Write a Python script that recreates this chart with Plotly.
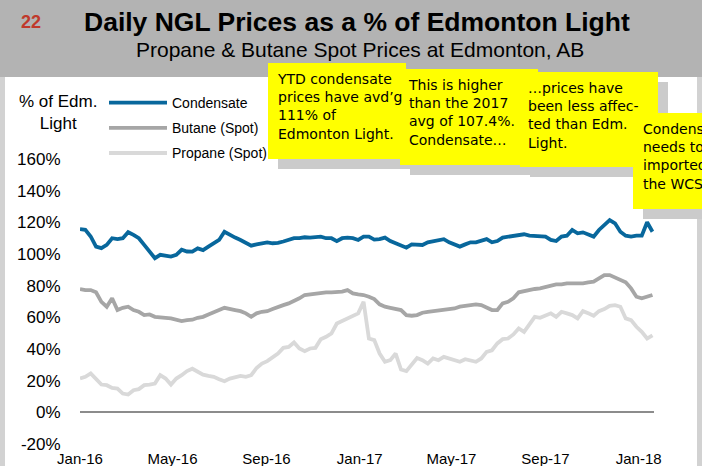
import pandas as pd
import plotly.graph_objects as go

# ---- data (weekly readings, % of Edmonton Light) ----
dates = pd.date_range("2016-01-01", periods=108, freq="7D")

condensate = [
    115.7, 115.3, 111.1, 104.7, 103.7, 105.8, 110.0, 109.4, 110.0, 113.8, 112.1, 110.0,
    105.8, 101.6, 97.4, 99.5, 98.9, 98.4, 99.5, 102.7, 101.6, 101.5,
    103.6, 102.5, 104.7, 106.8, 108.9, 114.1, 112.0, 110.4, 108.9, 107.4, 105.3, 106.1,
    106.6, 107.4, 106.8, 107.0, 107.9, 108.9, 110.0, 110.0, 110.6, 110.4,
    111.0, 111.0, 110.0, 110.0, 108.2, 110.0, 110.4, 110.0, 108.9, 111.0, 111.0, 109.1,
    109.4, 110.4, 108.2, 106.8, 105.3, 104.0, 106.1, 105.7, 105.7,
    107.4, 108.2, 108.9, 109.4, 107.4, 106.1, 104.7, 106.1, 107.4, 107.4, 108.2, 109.4,
    107.4, 108.2, 110.4, 111.0, 111.0, 111.6, 112.5, 111.6, 111.6,
    111.0, 111.0, 108.9, 108.2, 111.0, 111.6, 115.2, 113.1, 113.7, 112.5, 111.0, 115.2,
    118.4, 121.5, 119.4, 114.1, 111.6, 111.0, 111.6, 111.6, 120.1, 114.1,
]
butane = [
    77.9, 77.2, 77.2, 75.8, 69.8, 66.7, 72.0, 64.6, 66.0, 66.7, 64.6, 63.5,
    61.4, 61.8, 60.3, 60.3, 59.7, 59.3, 58.2, 57.6, 58.2, 58.5,
    59.7, 60.3, 61.8, 63.5, 64.6, 66.0, 65.6, 64.6, 63.9, 62.5, 60.3, 62.5,
    63.5, 63.9, 65.2, 66.7, 67.7, 68.8, 70.3, 72.0, 74.1, 74.5,
    75.1, 75.8, 75.8, 75.8, 75.8, 76.2, 77.2, 75.1, 74.5, 74.1, 73.0, 71.5,
    68.2, 66.7, 66.0, 65.2, 64.6, 61.4, 61.0, 61.4, 62.9,
    63.5, 63.9, 64.6, 65.2, 65.2, 65.6, 66.7, 67.3, 68.2, 68.2, 67.7, 66.0,
    64.6, 64.6, 68.8, 69.8, 72.0, 75.8, 76.6, 77.2, 77.9,
    78.3, 79.3, 80.0, 80.8, 80.8, 81.5, 81.5, 81.5, 81.5, 82.1, 82.5, 84.6,
    86.7, 86.7, 85.0, 83.6, 82.1, 78.3, 73.0, 72.0, 73.0, 74.1,
]
propane = [
    21.3, 22.4, 24.5, 21.3, 17.5, 17.1, 15.4, 15.0, 11.8, 11.2, 13.9, 14.6,
    17.1, 17.5, 18.1, 23.4, 21.3, 17.5, 21.3, 23.4, 26.0, 27.5,
    25.5, 23.8, 23.0, 22.4, 20.9, 19.6, 21.3, 22.4, 23.0, 22.4, 23.4, 28.0,
    30.8, 32.3, 35.0, 37.1, 40.7, 41.3, 44.1, 40.3, 38.6, 40.3,
    40.7, 46.2, 47.7, 49.8, 56.1, 57.6, 59.7, 61.0, 62.5, 69.8, 46.6, 45.6,
    37.1, 31.9, 32.9, 37.1, 27.0, 26.0, 29.8, 34.3, 32.9,
    30.8, 34.0, 32.9, 35.0, 34.0, 32.9, 31.9, 33.5, 32.9, 31.9, 34.0, 38.2,
    39.2, 43.5, 46.2, 46.6, 49.2, 53.0, 50.8, 55.1, 60.3,
    59.7, 61.4, 62.5, 60.3, 63.5, 62.5, 61.4, 59.3, 63.9, 62.5, 61.0, 63.9,
    65.2, 67.3, 67.7, 66.7, 59.3, 58.2, 54.0, 50.8, 46.6, 48.6,
]
series_names = ["Condensate", "Butane (Spot)", "Propane (Spot)"]
series_colors = ["#08679C", "#A6A6A6", "#D9D9D9"]

tick_dates = ["2016-01-01", "2016-05-01", "2016-09-01", "2017-01-01",
              "2017-05-01", "2017-09-01", "2018-01-01"]
tick_labels = ["Jan-16", "May-16", "Sep-16", "Jan-17", "May-17", "Sep-17", "Jan-18"]
y_ticks = [-20, 0, 20, 40, 60, 80, 100, 120, 140, 160]
y_labels = [f"{v}%" for v in y_ticks]

# ---- layout geometry (pixels) ----
W, H = 702, 466
ML, MR, MT, MB = 80, 48, 80, 18
PW, PH = W - ML - MR, H - MT - MB
Y_RANGE = [-22.6, 210]
X_RANGE = ["2016-01-01", "2018-01-21"]


def xp(px):
    return (px - ML) / PW


def yp(py):
    return (H - MB - py) / PH


fig = go.Figure()
for name, vals, col, grp in zip(series_names, [condensate, butane, propane],
                                series_colors, ["a", "b", "c"]):
    fig.add_trace(go.Scatter(x=dates, y=vals, mode="lines", name=name,
                             legendgroup=grp,
                             line=dict(color=col, width=3.8)))
# empty trace that registers the overlaid axis used for the 0% axis line
fig.add_trace(go.Scatter(x=[], y=[], xaxis="x2", showlegend=False, hoverinfo="skip"))

shapes = []


def rect(x0, y0, x1, y1, color, layer="above"):
    shapes.append(dict(type="rect", xref="paper", yref="paper",
                       x0=xp(x0), x1=xp(x1), y0=yp(y1), y1=yp(y0),
                       fillcolor=color, line=dict(width=0), layer=layer))


# frame
rect(0, 0, W, 77, "#B3B3B3", "below")
rect(0, 77, 5, H, "#D2D2D2", "below")
rect(697, 77, W, H, "#D2D2D2", "below")
# note shadows and boxes
boxes = [(268, 63, 406, 159), (400, 69, 538, 165), (520, 72, 658, 167), (633, 113, 720, 209)]
for (x0, y0, x1, y1) in boxes:
    rect(x0 + 10, y0 + 10, x1 + 10, y1 + 10, "#CBCBCB")
for (x0, y0, x1, y1) in boxes:
    rect(x0, y0, x1, y1, "#FFFF00")

note_texts = [
    "YTD condensate<br>prices have avd’g<br>111% of<br>Edmonton Light.",
    "This is higher<br>than the 2017<br>avg of 107.4%.<br>Condensate…",
    "…prices have<br>been less affec-<br>ted than Edm.<br>Light.",
    "Condensate<br>needs to be<br>imported for<br>the WCS",
]
note_pos = [(275, 69), (406, 75), (526, 78), (641, 119)]

annotations = []
for txt, (px, py) in zip(note_texts, note_pos):
    annotations.append(dict(text=txt, xref="paper", yref="paper", x=xp(px), y=yp(py),
                            xanchor="left", yanchor="top", align="left", showarrow=False,
                            font=dict(family="Comic Sans MS, DejaVu Sans", size=14,
                                      color="#000000")))

annotations += [
    dict(text="<b>22</b>", xref="paper", yref="paper", x=xp(31), y=yp(22),
         xanchor="center", yanchor="middle", showarrow=False,
         font=dict(family="Liberation Sans, Arial", size=18, color="#C0392B")),
    dict(text="<b>Daily NGL Prices as a % of Edmonton Light</b>", xref="paper", yref="paper",
         x=xp(357), y=yp(22), xanchor="center", yanchor="middle", showarrow=False,
         font=dict(family="Liberation Sans, Arial", size=26.5, color="#000000")),
    dict(text="Propane & Butane Spot Prices at Edmonton, AB", xref="paper", yref="paper",
         x=xp(360), y=yp(50), xanchor="center", yanchor="middle", showarrow=False,
         font=dict(family="Liberation Sans, Arial", size=21, color="#000000")),
    dict(text="% of Edm.<br>Light", xref="paper", yref="paper",
         x=xp(58), y=yp(112), xanchor="center", yanchor="middle", showarrow=False,
         align="center",
         font=dict(family="Liberation Sans, Arial", size=17, color="#000000")),
]

fig.update_layout(
    width=W, height=H,
    margin=dict(l=ML, r=MR, t=MT, b=MB, autoexpand=False),
    paper_bgcolor="#FFFFFF", plot_bgcolor="#FFFFFF",
    font=dict(family="Liberation Sans, Arial", size=17, color="#000000"),
    shapes=shapes, annotations=annotations,
    showlegend=True,
    legend=dict(x=xp(104), y=yp(87), xanchor="left", yanchor="top",
                bgcolor="rgba(0,0,0,0)", font=dict(size=14, color="#000000"),
                itemwidth=58, tracegroupgap=4),
    xaxis=dict(range=X_RANGE, tickvals=tick_dates, ticktext=tick_labels,
               showgrid=False, showline=False, zeroline=False, ticks="",
               tickfont=dict(size=15), automargin=False),
    xaxis2=dict(range=X_RANGE, overlaying="x", anchor="free",
                position=-Y_RANGE[0] / (Y_RANGE[1] - Y_RANGE[0]),
                side="bottom", tickvals=tick_dates, showticklabels=False,
                showgrid=False, zeroline=False, showline=True, linecolor="#8C8C8C",
                linewidth=1.5, ticks="outside", ticklen=5, tickwidth=1.5,
                tickcolor="#8C8C8C"),
    yaxis=dict(range=Y_RANGE, tickvals=y_ticks, ticktext=y_labels, showgrid=False,
               zeroline=False, showline=False, ticks="outside", ticklen=15,
               tickcolor="rgba(0,0,0,0)", tickfont=dict(size=17), automargin=False),
)

fig.write_html("out.html", config={"displayModeBar": False},
               post_script="document.body.style.margin='0';")
